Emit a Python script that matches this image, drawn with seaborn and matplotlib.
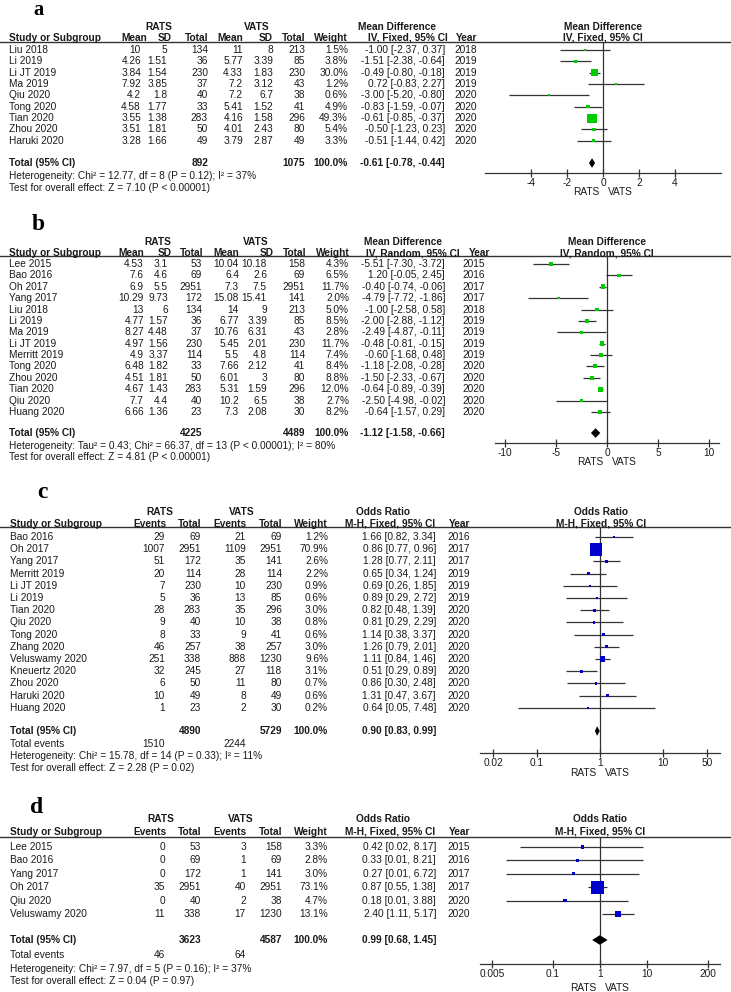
import numpy as np
import matplotlib
matplotlib.use('Agg')
import matplotlib.pyplot as plt
from matplotlib.ticker import NullLocator
import seaborn as sns

plt.rcParams['font.family'] = ['Liberation Sans', 'DejaVu Sans']
plt.rcParams['axes.unicode_minus'] = False

# ---- panel a: mean difference, fixed ----
a_study = ['Liu 2018', 'Li 2019', 'Li JT 2019', 'Ma 2019', 'Qiu 2020', 'Tong 2020',
           'Tian 2020', 'Zhou 2020', 'Haruki 2020']
a_m1 = [10, 4.26, 3.84, 7.92, 4.2, 4.58, 3.55, 3.51, 3.28]
a_sd1 = [5, 1.51, 1.54, 3.85, 1.8, 1.77, 1.38, 1.81, 1.66]
a_n1 = [134, 36, 230, 37, 40, 33, 283, 50, 49]
a_m2 = [11, 5.77, 4.33, 7.2, 7.2, 5.41, 4.16, 4.01, 3.79]
a_sd2 = [8, 3.39, 1.83, 3.12, 6.7, 1.52, 1.58, 2.43, 2.87]
a_n2 = [213, 85, 230, 43, 38, 41, 296, 80, 49]
a_w = [1.5, 3.8, 30.0, 1.2, 0.6, 4.9, 49.3, 5.4, 3.3]
a_est = [-1.00, -1.51, -0.49, 0.72, -3.00, -0.83, -0.61, -0.50, -0.51]
a_lo = [-2.37, -2.38, -0.80, -0.83, -5.20, -1.59, -0.85, -1.23, -1.44]
a_hi = [0.37, -0.64, -0.18, 2.27, -0.80, -0.07, -0.37, 0.23, 0.42]
a_year = [2018, 2019, 2019, 2019, 2020, 2020, 2020, 2020, 2020]
a_tot = [-0.61, -0.78, -0.44]
a_totn = [892, 1075]
a_het = 'Heterogeneity: Chi² = 12.77, df = 8 (P = 0.12); I² = 37%'
a_test = 'Test for overall effect: Z = 7.10 (P < 0.00001)'

# ---- panel b: mean difference, random ----
b_study = ['Lee 2015', 'Bao 2016', 'Oh 2017', 'Yang 2017', 'Liu 2018', 'Li 2019', 'Ma 2019',
           'Li JT 2019', 'Merritt 2019', 'Tong 2020', 'Zhou 2020', 'Tian 2020', 'Qiu 2020',
           'Huang 2020']
b_m1 = [4.53, 7.6, 6.9, 10.29, 13, 4.77, 8.27, 4.97, 4.9, 6.48, 4.51, 4.67, 7.7, 6.66]
b_sd1 = [3.1, 4.6, 5.5, 9.73, 6, 1.57, 4.48, 1.56, 3.37, 1.82, 1.81, 1.43, 4.4, 1.36]
b_n1 = [53, 69, 2951, 172, 134, 36, 37, 230, 114, 33, 50, 283, 40, 23]
b_m2 = [10.04, 6.4, 7.3, 15.08, 14, 6.77, 10.76, 5.45, 5.5, 7.66, 6.01, 5.31, 10.2, 7.3]
b_sd2 = [10.18, 2.6, 7.5, 15.41, 9, 3.39, 6.31, 2.01, 4.8, 2.12, 3, 1.59, 6.5, 2.08]
b_n2 = [158, 69, 2951, 141, 213, 85, 43, 230, 114, 41, 80, 296, 38, 30]
b_w = [4.3, 6.5, 11.7, 2.0, 5.0, 8.5, 2.8, 11.7, 7.4, 8.4, 8.8, 12.0, 2.7, 8.2]
b_est = [-5.51, 1.20, -0.40, -4.79, -1.00, -2.00, -2.49, -0.48, -0.60, -1.18, -1.50, -0.64, -2.50, -0.64]
b_lo = [-7.30, -0.05, -0.74, -7.72, -2.58, -2.88, -4.87, -0.81, -1.68, -2.08, -2.33, -0.89, -4.98, -1.57]
b_hi = [-3.72, 2.45, -0.06, -1.86, 0.58, -1.12, -0.11, -0.15, 0.48, -0.28, -0.67, -0.39, -0.02, 0.29]
b_year = [2015, 2016, 2017, 2017, 2018, 2019, 2019, 2019, 2019, 2020, 2020, 2020, 2020, 2020]
b_tot = [-1.12, -1.58, -0.66]
b_totn = [4225, 4489]
b_het = 'Heterogeneity: Tau² = 0.43; Chi² = 66.37, df = 13 (P < 0.00001); I² = 80%'
b_test = 'Test for overall effect: Z = 4.81 (P < 0.00001)'

# ---- panel c: odds ratio ----
c_study = ['Bao 2016', 'Oh 2017', 'Yang 2017', 'Merritt 2019', 'Li JT 2019', 'Li 2019',
           'Tian 2020', 'Qiu 2020', 'Tong 2020', 'Zhang 2020', 'Veluswamy 2020',
           'Kneuertz 2020', 'Zhou 2020', 'Haruki 2020', 'Huang 2020']
c_e1 = [29, 1007, 51, 20, 7, 5, 28, 9, 8, 46, 251, 32, 6, 10, 1]
c_n1 = [69, 2951, 172, 114, 230, 36, 283, 40, 33, 257, 338, 245, 50, 49, 23]
c_e2 = [21, 1109, 35, 28, 10, 13, 35, 10, 9, 38, 888, 27, 11, 8, 2]
c_n2 = [69, 2951, 141, 114, 230, 85, 296, 38, 41, 257, 1230, 118, 80, 49, 30]
c_w = [1.2, 70.9, 2.6, 2.2, 0.9, 0.6, 3.0, 0.8, 0.6, 3.0, 9.6, 3.1, 0.7, 0.6, 0.2]
c_est = [1.66, 0.86, 1.28, 0.65, 0.69, 0.89, 0.82, 0.81, 1.14, 1.26, 1.11, 0.51, 0.86, 1.31, 0.64]
c_lo = [0.82, 0.77, 0.77, 0.34, 0.26, 0.29, 0.48, 0.29, 0.38, 0.79, 0.84, 0.29, 0.30, 0.47, 0.05]
c_hi = [3.34, 0.96, 2.11, 1.24, 1.85, 2.72, 1.39, 2.29, 3.37, 2.01, 1.46, 0.89, 2.48, 3.67, 7.48]
c_year = [2016, 2017, 2017, 2019, 2019, 2019, 2020, 2020, 2020, 2020, 2020, 2020, 2020, 2020, 2020]
c_tot = [0.90, 0.83, 0.99]
c_totn = [4890, 5729]
c_totev = [1510, 2244]
c_het = 'Heterogeneity: Chi² = 15.78, df = 14 (P = 0.33); I² = 11%'
c_test = 'Test for overall effect: Z = 2.28 (P = 0.02)'

# ---- panel d: odds ratio ----
d_study = ['Lee 2015', 'Bao 2016', 'Yang 2017', 'Oh 2017', 'Qiu 2020', 'Veluswamy 2020']
d_e1 = [0, 0, 0, 35, 0, 11]
d_n1 = [53, 69, 172, 2951, 40, 338]
d_e2 = [3, 1, 1, 40, 2, 17]
d_n2 = [158, 69, 141, 2951, 38, 1230]
d_w = [3.3, 2.8, 3.0, 73.1, 4.7, 13.1]
d_est = [0.42, 0.33, 0.27, 0.87, 0.18, 2.40]
d_lo = [0.02, 0.01, 0.01, 0.55, 0.01, 1.11]
d_hi = [8.17, 8.21, 6.72, 1.38, 3.88, 5.17]
d_year = [2015, 2016, 2017, 2017, 2020, 2020]
d_tot = [0.99, 0.68, 1.45]
d_totn = [3623, 4587]
d_totev = [46, 64]
d_het = 'Heterogeneity: Chi² = 7.97, df = 5 (P = 0.16); I² = 37%'
d_test = 'Test for overall effect: Z = 0.04 (P = 0.97)'

W, H = 731, 992
TXT = '#1a1a1a'
LINE = '#333333'
FS = 7.3
GREEN = '#00cc00'
BLUE = '#0000cc'

fig = plt.figure(figsize=(W / 100, H / 100), dpi=100)
fig.patch.set_facecolor('white')
T = fig.add_axes([0, 0, 1, 1])
T.set_xlim(0, W); T.set_ylim(H, 0); T.axis('off')


def txt(x, y, s, ha='right', bold=False, **kw):
    T.text(x, y, s, ha=ha, va='center', fontsize=kw.pop('fs', FS), color=TXT,
           fontweight='bold' if bold else 'normal', **kw)


def forest(rect, xlim, null, ticks, est, lo, hi, w, tot, row0, sp, total_y,
           smax, color, log=False):
    l, t, r, b = rect
    ax = fig.add_axes([l / W, 1 - b / H, (r - l) / W, (b - t) / H])
    ax.patch.set_alpha(0)
    if log:
        ax.set_xscale('log')
    y = np.arange(len(est))
    ax.axvline(null, color=LINE, lw=0.9, zorder=1)
    ax.hlines(y, lo, hi, color=LINE, lw=0.9, zorder=2)
    sns.scatterplot(x=est, y=y, size=w, sizes=(2, smax), size_norm=(0, 100),
                    marker='s', color=color, linewidth=0, legend=False, ax=ax, zorder=3)
    yt = (total_y - row0) / sp
    hh = 4.8 / sp
    ax.fill([tot[1], tot[0], tot[2], tot[0]], [yt, yt - hh, yt, yt + hh],
            color='black', lw=0, zorder=3)
    ax.set_xlim(*xlim)
    ax.set_ylim((b - row0) / sp, (t - row0) / sp)
    ax.set_xticks(ticks, [f'{v:g}' for v in ticks])
    if log:
        ax.xaxis.set_minor_locator(NullLocator())
    ax.set_yticks([])
    ax.set_xlabel(''); ax.set_ylabel('')
    for s in ['top', 'left', 'right']:
        ax.spines[s].set_visible(False)
    ax.spines['bottom'].set_color(LINE)
    ax.spines['bottom'].set_linewidth(0.9)
    ax.tick_params(axis='x', bottom=True, direction='inout', length=6, width=0.9,
                   color=LINE, labelsize=FS, labelcolor=TXT, pad=0.5)
    return ax


def panel(lab, lay, study, cells, year, totn, tot, het, test, ev=None):
    T.text(lay['lab'][0], lay['lab'][1], lab, ha='left', va='baseline', fontsize=lay['lab'][2],
           fontweight='bold', family=['Liberation Serif', 'DejaVu Serif'], color='black')
    # group headers
    for (x, s) in lay['grp']:
        txt(x, lay['grp_y'], s, ha='center', bold=True)
    for x, s in zip(lay['hx'], lay['hdr']):
        txt(x, lay['hdr_y'], s, bold=True)
    txt(lay['study_x'], lay['hdr_y'], 'Study or Subgroup', ha='left', bold=True)
    txt(lay['ci_hx'], lay['hdr_y'], lay['ci_hdr'], ha='center', bold=True)
    txt(lay['fx'], lay['grp_y'], lay['ftitle'], ha='center', bold=True)
    txt(lay['fx'], lay['hdr_y'], lay['ci_hdr'], ha='center', bold=True)
    T.axhline(lay['rule'], color=LINE, lw=1.0)
    cx = lay['cx']
    for i, s in enumerate(study):
        y = lay['row0'] + i * lay['sp']
        txt(lay['study_x'], y, s, ha='left')
        for x, c in zip(cx, cells[i]):
            txt(x, y, c)
        txt(lay['yx'], y, str(year[i]))
    yt = lay['total']
    txt(lay['study_x'], yt, 'Total (95% CI)', ha='left', bold=True)
    txt(lay['tn'][0], yt, str(totn[0]), bold=True)
    txt(lay['tn'][1], yt, str(totn[1]), bold=True)
    txt(cx[-2], yt, '100.0%', bold=True)
    txt(cx[-1], yt, f'{tot[0]:.2f} [{tot[1]:.2f}, {tot[2]:.2f}]', bold=True)
    if ev is not None:
        txt(lay['study_x'], lay['ev'], 'Total events', ha='left')
        txt(cx[0], lay['ev'], str(ev[0]))
        txt(cx[2], lay['ev'], str(ev[1]))
    txt(lay['study_x'], lay['het'], het, ha='left')
    txt(lay['study_x'], lay['test'], test, ha='left')
    nx = lay['null_px']
    txt(nx - 4, lay['rv'], 'RATS', ha='right')
    txt(nx + 5, lay['rv'], 'VATS', ha='left')


def md_cells(m1, s1, n1, m2, s2, n2, w, est, lo, hi):
    return [[f'{m1[i]:g}', f'{s1[i]:g}', str(n1[i]), f'{m2[i]:g}', f'{s2[i]:g}', str(n2[i]),
             f'{w[i]:.1f}%', f'{est[i]:.2f} [{lo[i]:.2f}, {hi[i]:.2f}]'] for i in range(len(w))]


def or_cells(e1, n1, e2, n2, w, est, lo, hi):
    return [[str(e1[i]), str(n1[i]), str(e2[i]), str(n2[i]),
             f'{w[i]:.1f}%', f'{est[i]:.2f} [{lo[i]:.2f}, {hi[i]:.2f}]'] for i in range(len(w))]


MD_HDR = ['Mean', 'SD', 'Total', 'Mean', 'SD', 'Total', 'Weight', 'Year']
OR_HDR = ['Events', 'Total', 'Events', 'Total', 'Weight', 'Year']

# ---- layout (pixels) ----
LA = dict(lab=(33, 14.6, 14.8), grp_y=27, hdr_y=38, rule=41.5, row0=50, sp=11.35, total=163,
          het=176, test=188, rv=192, study_x=9, null_px=603,
          grp=[(159, 'RATS'), (257, 'VATS'), (397, 'Mean Difference')],
          hx=[147, 172, 208, 243, 273, 305, 348, 477], hdr=MD_HDR,
          cx=[141, 167, 208, 243, 273, 305, 348, 445], yx=477, tn=(208, 305),
          ci_hdr='IV, Fixed, 95% CI', ci_hx=408, fx=603, ftitle='Mean Difference')
LB = dict(lab=(32, 230, 17), grp_y=242, hdr_y=253, rule=256, row0=264, sp=11.38, total=433,
          het=446, test=457, rv=462, study_x=9, null_px=607,
          grp=[(158, 'RATS'), (256, 'VATS'), (403, 'Mean Difference')],
          hx=[144, 172, 203, 239, 274, 306, 350, 490], hdr=MD_HDR,
          cx=[144, 168, 202, 239, 267, 305, 349, 445], yx=485, tn=(202, 305),
          ci_hdr='IV, Random, 95% CI', ci_hx=413, fx=607, ftitle='Mean Difference')
LC = dict(lab=(37, 498, 17), grp_y=512, hdr_y=524, rule=527, row0=537, sp=12.2, total=731,
          ev=744, het=756, test=768, rv=773, study_x=10, null_px=600,
          grp=[(160, 'RATS'), (242, 'VATS'), (383, 'Odds Ratio')],
          hx=[166, 201, 247, 282, 328, 470], hdr=OR_HDR,
          cx=[165, 201, 246, 282, 328, 436], yx=470, tn=(201, 282),
          ci_hdr='M-H, Fixed, 95% CI', ci_hx=390, fx=601, ftitle='Odds Ratio')
LD = dict(lab=(30, 813, 17), grp_y=819, hdr_y=832, rule=837, row0=847, sp=13.4, total=940,
          ev=955, het=969, test=981, rv=988, study_x=10, null_px=600,
          grp=[(161, 'RATS'), (241, 'VATS'), (383, 'Odds Ratio')],
          hx=[166, 201, 247, 282, 328, 470], hdr=OR_HDR,
          cx=[165, 201, 246, 282, 328, 436], yx=470, tn=(201, 282),
          ci_hdr='M-H, Fixed, 95% CI', ci_hx=390, fx=600, ftitle='Odds Ratio')

panel('a', LA, a_study, md_cells(a_m1, a_sd1, a_n1, a_m2, a_sd2, a_n2, a_w, a_est, a_lo, a_hi),
      a_year, a_totn, a_tot, a_het, a_test)
panel('b', LB, b_study, md_cells(b_m1, b_sd1, b_n1, b_m2, b_sd2, b_n2, b_w, b_est, b_lo, b_hi),
      b_year, b_totn, b_tot, b_het, b_test)
panel('c', LC, c_study, or_cells(c_e1, c_n1, c_e2, c_n2, c_w, c_est, c_lo, c_hi),
      c_year, c_totn, c_tot, c_het, c_test, ev=c_totev)
panel('d', LD, d_study, or_cells(d_e1, d_n1, d_e2, d_n2, d_w, d_est, d_lo, d_hi),
      d_year, d_totn, d_tot, d_het, d_test, ev=d_totev)

forest((485, LA['rule'], 721, 173), (-6.56, 6.56), 0, [-4, -2, 0, 2, 4],
       a_est, a_lo, a_hi, a_w, a_tot, LA['row0'], LA['sp'], LA['total'], 85, GREEN)
forest((495, LB['rule'], 719, 443), (-11, 11), 0, [-10, -5, 0, 5, 10],
       b_est, b_lo, b_hi, b_w, b_tot, LB['row0'], LB['sp'], LB['total'], 80, GREEN)
forest((480, LC['rule'], 720, 753), (10 ** -1.905, 10 ** 1.905), 1, [0.02, 0.1, 1, 10, 50],
       c_est, c_lo, c_hi, c_w, c_tot, LC['row0'], LC['sp'], LC['total'], 117, BLUE, log=True)
forest((480, LD['rule'], 720, 964), (10 ** -2.553, 10 ** 2.553), 1, [0.005, 0.1, 1, 10, 200],
       d_est, d_lo, d_hi, d_w, d_tot, LD['row0'], LD['sp'], LD['total'], 117, BLUE, log=True)

fig.savefig('out.png', dpi=100)
